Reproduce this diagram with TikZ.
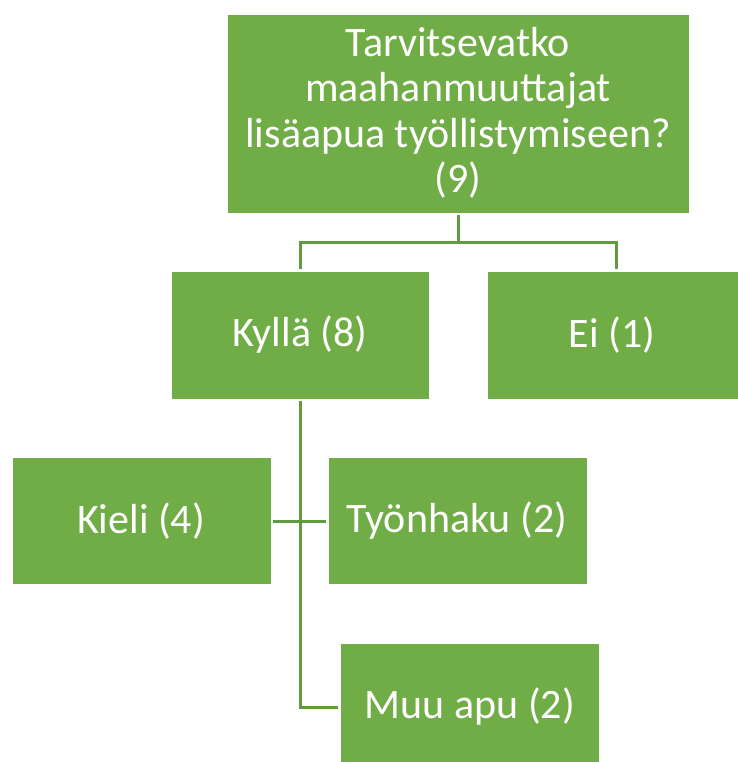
\documentclass[tikz,border=0pt]{standalone}
\usepackage{fontspec}
\setmainfont{Carlito}
\definecolor{boxgreen}{HTML}{70AD47}
\definecolor{linegreen}{HTML}{5E9C3D}
\begin{document}
\begin{tikzpicture}[x=1pt,y=-1pt,
  gbox/.style={fill=boxgreen,draw=white,line width=0.8pt},
  gtext/.style={text=white,align=center,inner sep=0pt,
    font=\fontsize{42}{45.5}\selectfont},
  conn/.style={draw=linegreen,line width=3pt}]
\useasboundingbox (0,0) rectangle (737,762);
% boxes
\path[gbox] (227,14) rectangle (689,213);
\node[gtext] (top) at (458,113)
  {Tarvitsevatko\\maahanmuuttajat\\lisäapua työllistymiseen?\\(9)};
\coordinate (topb) at (458,215);
\path[gbox] (171,271) rectangle (429,399);
\node[gtext] (kylla) at (300,335) {Kyllä (8)};
\coordinate (kyllat) at (300,269);
\coordinate (kyllab) at (300,401);
\path[gbox] (487,271) rectangle (745,399);
\node[gtext] (ei) at (612,335) {Ei (1)};
\coordinate (eit) at (616,269);
\path[gbox] (12,457) rectangle (271,584);
\node[gtext] (kieli) at (141,521) {Kieli (4)};
\coordinate (kielir) at (273,521);
\path[gbox] (328,457) rectangle (587,584);
\node[gtext] (tyon) at (457,521) {Työnhaku (2)};
\coordinate (tyonl) at (326,521);
\path[gbox] (340,643) rectangle (599,770);
\node[gtext] (muu) at (470,707) {Muu apu (2)};
\coordinate (muul) at (338,707);
% connectors
\draw[conn] (topb) -- (458,242) -| (kyllat);
\draw[conn] (458,242) -| (eit);
\draw[conn] (kyllab) |- (muul);
\draw[conn] (kielir) -- (tyonl);
\end{tikzpicture}
\end{document}
